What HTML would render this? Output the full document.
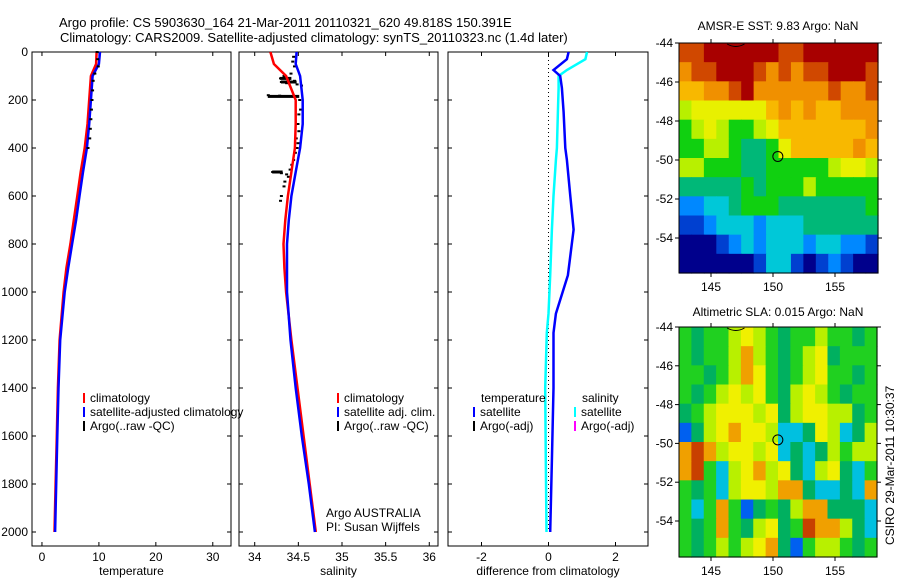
<!DOCTYPE html>
<html><head><meta charset="utf-8"><style>
html,body{margin:0;padding:0;background:#fff;}
svg{display:block;font-family:"Liberation Sans",sans-serif;}
text{font-size:12px;fill:#000;}
.ttl{font-size:13px;}
</style></head><body>
<svg id="fig" width="900" height="580" viewBox="0 0 900 580">
<text class="ttl" x="59" y="27">Argo profile: CS 5903630_164 21-Mar-2011 20110321_620 49.818S 150.391E</text>
<text class="ttl" x="60" y="42">Climatology: CARS2009. Satellite-adjusted climatology: synTS_20110323.nc (1.4d later)</text>
<g id="g1"></g>
<g id="g2"></g>
<g id="g3"></g>
<g id="m1"></g>
<g id="m2"></g>
<text x="778" y="30" text-anchor="middle">AMSR-E SST: 9.83 Argo: NaN</text>
<text x="778" y="316" text-anchor="middle">Altimetric SLA: 0.015 Argo: NaN</text>
<text transform="translate(894,545) rotate(-90)">CSIRO 29-Mar-2011 10:30:37</text>
</svg>
<script>
// ---- data ----
const depthTicks = [0,200,400,600,800,1000,1200,1400,1600,1800,2000];
const tempTicks = [0,10,20,30];
const salTicks = [34,34.5,35,35.5,36];
const diffTicks = [-2,0,2];
const climDepth = [0,50,100,200,300,400,500,600,700,800,900,1000,1200,1400,1600,1800,2000];
const tempClim = [9.6,9.5,8.6,8.3,8.0,7.5,6.8,6.2,5.6,5.0,4.3,3.8,3.1,2.8,2.6,2.4,2.2];
const tempSat = [10.2,10.0,8.9,8.6,8.3,7.9,7.2,6.6,6.0,5.3,4.6,4.0,3.2,2.9,2.7,2.5,2.3];
const salClim = [34.18,34.22,34.36,34.47,34.47,34.46,34.42,34.38,34.35,34.33,34.34,34.36,34.42,34.49,34.56,34.63,34.70];
const salSat = [34.48,34.47,34.52,34.55,34.55,34.52,34.47,34.42,34.39,34.37,34.37,34.37,34.41,34.47,34.54,34.62,34.69];
const argoTempDepth = [0,30,60,90,120,160,200,240,280,320,360,400];
const argoTemp = [9.6,9.7,9.8,9.2,8.9,8.8,8.7,8.6,8.5,8.4,8.3,8.0];
const argoSalDepth = [20,40,60,90,100,110,115,120,125,130,135,140,180,182,185,200,240,260,300,330,360,380,400,420,450,470,490,500,505,510,520,540,560,600,620];
const argoSal = [34.44,34.43,34.45,34.41,34.33,34.29,34.38,34.45,34.30,34.36,34.48,34.53,34.15,34.28,34.40,34.51,34.52,34.50,34.49,34.50,34.47,34.49,34.48,34.46,34.44,34.42,34.40,34.20,34.30,34.36,34.38,34.34,34.33,34.30,34.29];
const diffDepth = [0,30,75,100,150,250,400,450,600,740,930,1090,1170,1400,1700,2000];
const diffTemp = [0.6,0.55,0.15,0.35,0.4,0.45,0.5,0.55,0.65,0.75,0.58,0.22,0.15,0.15,0.1,0.05];
const diffSal = [1.15,1.1,0.55,0.3,0.3,0.28,0.25,0.22,0.15,0.1,0.05,0.0,-0.05,-0.1,-0.08,-0.06];
const mapLonTicks = [145,150,155];
const mapLatTicks = [-44,-46,-48,-50,-52,-54];
const sstGrid = ["RRDDDDDDRRDDDDDD","ORRDDDRORORRDDDR","ooOORDOOOOOOROOR","yYYYYYYoOoOooOOO","GyYyGGyYoooooooO","GGyyGggGYoooooOo","yyGGGggGGGGGyYYy","gggggGgGGGyGGGGG","BBCCgGGGgggggggG","bbBCCCBCCCgggggg","NNNbBCBCCCBCCBBb","NNNNNNbCCbNbBbNN"];
const slaGrid = ["GgGGyYyGgGGyGGgG","GgGGyOyGgGyYgGGG","GGgGyOYGgGyYGGgG","GgGyYyYGgyYyGgGG","gGyYYYyYgyYYyygG","BgyYOYYyCCgYyCgy","ORОyYYyYCgCgyGyy".replace('О','O'),"ORGCyYOyYgCyYgCG","GgGCyYYyOOgCCgCO","GCGOGBgGgyOOgggC","GgGOGgyYgGROOygC","GgGyGyYOgBGyyGgG"];
const sstColors = {D:"#a80000",R:"#d04800",O:"#f09000",o:"#f8b800",Y:"#e8f000",y:"#b8f000",G:"#10d010",g:"#00b878",C:"#00c8d8",B:"#0088ff",b:"#0040d0",N:"#00008c"};
const slaColors = {G:"#20d020",g:"#00b060",y:"#b8f000",Y:"#f0f000",O:"#f0a000",R:"#c84000",C:"#00c0e0",B:"#0060f0"};

const NS="http://www.w3.org/2000/svg";
function el(tag, parent, attrs){const e=document.createElementNS(NS,tag);for(const k in attrs)e.setAttribute(k,attrs[k]);parent.appendChild(e);return e;}
const Y0=52, Y1=546; const yD=d=>Y0+d*0.24;

function panel(g, x0, x1, xmin, xmax, ticks, label, showY){
  const sx=v=>x0+(v-xmin)/(xmax-xmin)*(x1-x0);
  const r=el('rect',g,{x:x0,y:Y0,width:x1-x0,height:Y1-Y0,fill:'none',stroke:'#000','stroke-width':1});
  
  
  ticks.forEach(t=>{
    const X=sx(t);
    el('line',g,{x1:X,y1:Y1,x2:X,y2:Y1-4,stroke:'#000'});
    el('line',g,{x1:X,y1:Y0,x2:X,y2:Y0+4,stroke:'#000'});
    const tx=el('text',g,{x:X,y:Y1+15,'text-anchor':'middle'});tx.textContent=String(t);
    
    
  });
  depthTicks.forEach(d=>{
    const Y=yD(d);
    el('line',g,{x1:x0,y1:Y,x2:x0+4,y2:Y,stroke:'#000'});
    el('line',g,{x1:x1,y1:Y,x2:x1-4,y2:Y,stroke:'#000'});
    if(showY){const tx=el('text',g,{x:28,y:Y+4,'text-anchor':'end'});tx.textContent=String(d);
      
      }
  });
  const xl=el('text',g,{x:(x0+x1)/2,y:575,'text-anchor':'middle'});xl.textContent=label;
  
  
  return sx;
}
function stepLine(g,sx,depths,vals,color,w,name){
  let d='';
  depths.forEach((dp,i)=>{d+=(i?'L':'M')+sx(vals[i]).toFixed(1)+','+yD(dp).toFixed(1);});
  const p=el('path',g,{d:d,fill:'none',stroke:color,'stroke-width':w});
  
  
}
function dots(g,sx,depths,vals,name){
  depths.forEach((dp,i)=>{
    const r=el('rect',g,{x:sx(vals[i])-1,y:yD(dp)-1,width:3,height:2,fill:'#000'});
    
    
  });
}
function legend(g,x,y,color,label,name){
  el('rect',g,{x:x,y:y-9,width:2,height:10,fill:color});
  const t=el('text',g,{x:x+7,y:y});t.textContent=label;
  
  
}
const g1=document.getElementById('g1'),g2=document.getElementById('g2'),g3=document.getElementById('g3');
const sT=panel(g1,32,231,-1.75,33.2,tempTicks,'temperature',true);
stepLine(g1,sT,climDepth,tempClim,'#f00',2.5,'temp-climatology-line');
stepLine(g1,sT,climDepth,tempSat,'#00f',2.5,'temp-satellite-line');
dots(g1,sT,argoTempDepth,argoTemp,'argo-temp-point');
legend(g1,83,402,'#f00','climatology','legend-climatology');
legend(g1,83,416,'#00f','satellite-adjusted climatology','legend-satellite');
legend(g1,83,430,'#000','Argo(..raw -QC)','legend-argo');

const sS=panel(g2,239,438,33.82,36.1,salTicks,'salinity',false);
dots(g2,sS,argoSalDepth,argoSal,'argo-sal-point');
[[110,34.29,34.42],[125,34.30,34.48],[185,34.15,34.51],[500,34.20,34.32]].forEach(s=>{
  const r=el('rect',g2,{x:sS(s[1]),y:yD(s[0])-1.5,width:sS(s[2])-sS(s[1]),height:3,fill:'#000'});
  
  
});
stepLine(g2,sS,climDepth,salClim,'#f00',2.5,'sal-climatology-line');
stepLine(g2,sS,climDepth,salSat,'#00f',2.5,'sal-satellite-line');
legend(g2,337,402,'#f00','climatology','legend-climatology');
legend(g2,337,416,'#00f','satellite adj. clim.','legend-satellite');
legend(g2,337,430,'#000','Argo(..raw -QC)','legend-argo');
let t=el('text',g2,{x:326,y:517});t.textContent='Argo AUSTRALIA';


t=el('text',g2,{x:326,y:531});t.textContent='PI: Susan Wijffels';



const sD=panel(g3,448,648,-3.0,2.97,diffTicks,'difference from climatology',false);
el('line',g3,{x1:sD(0),y1:Y0,x2:sD(0),y2:yD(2000),stroke:'#000','stroke-dasharray':'1,3'});
stepLine(g3,sD,diffDepth,diffSal,'#0ff',2.5,'sal-diff-line');
stepLine(g3,sD,diffDepth,diffTemp,'#00f',2.5,'temp-diff-line');
t=el('text',g3,{x:481,y:402});t.textContent='temperature';


t=el('text',g3,{x:582,y:402});t.textContent='salinity';


legend(g3,473,416,'#00f','satellite','legend-temp-satellite');
legend(g3,473,430,'#000','Argo(-adj)','legend-temp-argo');
legend(g3,574,416,'#0ff','satellite','legend-sal-satellite');
legend(g3,574,430,'#f0f','Argo(-adj)','legend-sal-argo');

function map(g,grid,colors,x0,y0,x1,y1,lat44y,lat54y){
  const lonX=l=>711+(l-145)*12.4;
  const latY=l=>lat44y+(-44-l)*(lat54y-lat44y)/10;
  const rows=grid.length, cols=grid[0].length;
  const cw=(x1-x0)/cols, ch=(y1-y0)/rows;
  grid.forEach((row,r)=>{[...row].forEach((c,k)=>{
    const e=el('rect',g,{x:x0+k*cw,y:y0+r*ch,width:cw+0.6,height:ch+0.6,fill:colors[c]});
    
    
  });});
  const f=el('rect',g,{x:x0,y:y0,width:x1-x0,height:y1-y0,fill:'none',stroke:'#000'});
  
  
  mapLonTicks.forEach(l=>{const X=lonX(l);
    el('line',g,{x1:X,y1:y1,x2:X,y2:y1+4,stroke:'#000'});
    el('line',g,{x1:X,y1:y0,x2:X,y2:y0-4,stroke:'#000'});
    const tx=el('text',g,{x:X,y:y1+18,'text-anchor':'middle'});tx.textContent=String(l);
    
    });
  mapLatTicks.forEach(l=>{const Y=latY(l);
    el('line',g,{x1:x0,y1:Y,x2:x0-4,y2:Y,stroke:'#000'});
    el('line',g,{x1:x1,y1:Y,x2:x1+4,y2:Y,stroke:'#000'});
    const tx=el('text',g,{x:x0-6,y:Y+4,'text-anchor':'end'});tx.textContent=String(l);
    
    });
  const c=el('circle',g,{cx:lonX(150.391),cy:latY(-49.818),r:5,fill:'none',stroke:'#000'});
  
  
  el('path',g,{d:`M${lonX(146.3)},${y0+1} Q${lonX(147)},${y0+6} ${lonX(147.7)},${y0+1}`,fill:'none',stroke:'#000'});
}
map(document.getElementById('m1'),sstGrid,sstColors,679,43,878,273,43,238);
map(document.getElementById('m2'),slaGrid,slaColors,679,327,877,557,327,521);
</script>
</body></html>
